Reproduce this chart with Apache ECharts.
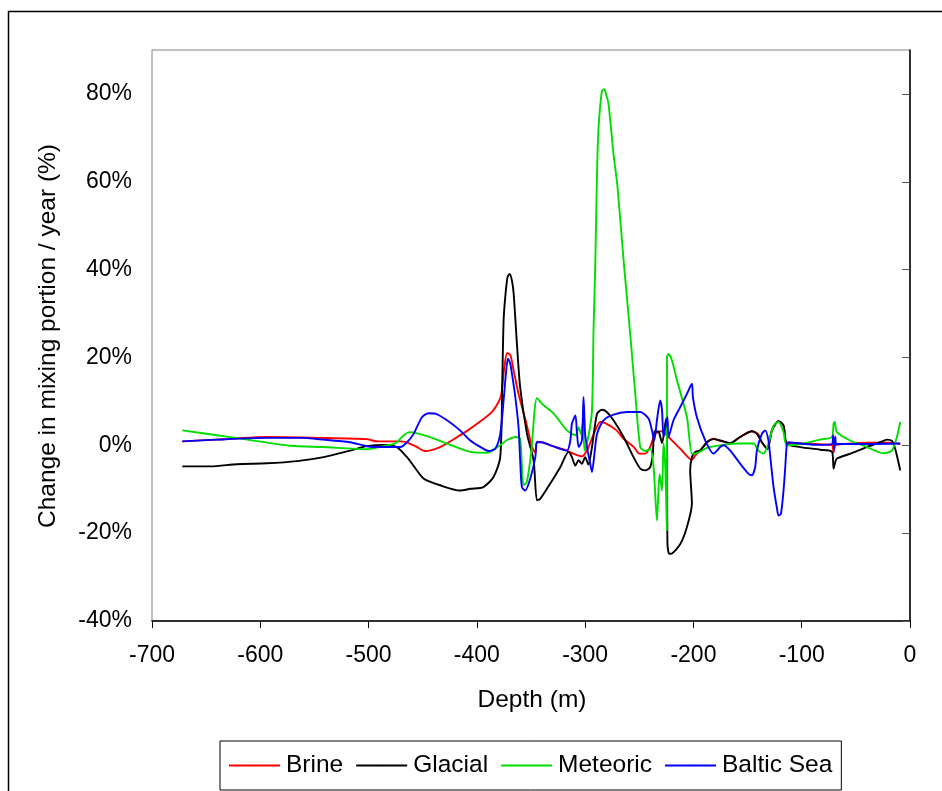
<!DOCTYPE html>
<html>
<head>
<meta charset="utf-8">
<script src="https://cdn.jsdelivr.net/npm/echarts@6/dist/echarts.min.js"></script>
<style>
  html, body { margin: 0; padding: 0; background: #fff; }
  #chart { width: 942px; height: 791px; }
</style>
</head>
<body>
<div id="chart"></div>
<script>
// Change in mixing portion per year (%) against depth (m), one [depth, change] pair per point.
const brine = [
  [-672, 0.9], [-640, 1.3], [-594, 1.9], [-545, 1.7], [-502, 1.4], [-492, 0.9], [-470, 0.9],
  [-466, 0.8], [-456, -0.3], [-448, -1.3], [-434, -0.4], [-420, 1.6], [-406, 3.8], [-386, 7.6],
  [-378, 11.0], [-375, 17.0], [-372, 21.0], [-369, 20.5], [-366, 17.0], [-361.5, 11.7],
  [-355, 5.7], [-349, -0.4], [-346, -1.7], [-344.5, 0.8], [-340, 0.7], [-332, 0], [-317, -1.2],
  [-310, -2.0], [-303, -2.5], [-298, -1.0], [-292, 2.6], [-286, 5.3], [-281, 5.0], [-271, 3.4],
  [-264.5, 1.5], [-255, -0.4], [-250, -1.9], [-244.5, -1.9], [-240, -0.4], [-235.3, 2.6],
  [-230, 3.2], [-227.6, 3.0], [-223, 1.9], [-212, -0.8], [-201.4, -3.3], [-198.3, -2.3],
  [-193.8, -1.2], [-187.5, 0.7], [-181.4, 1.5], [-175, 1.0], [-166, 0.5], [-156.8, 1.9],
  [-146, 3.2], [-140, 2.5], [-136.8, 0.7], [-131.6, -0.8], [-127.5, 3.4], [-121.4, 5.5],
  [-116.8, 4.5], [-113.7, 0.4], [-100, 0.4], [-80, 0.2], [-72, 0], [-70.6, -1.6], [-69, 0],
  [-60, 0.3], [-40, 0.6], [-20, 0.6], [-9, 0.3]
];

const glacial = [
  [-672, -4.8], [-646, -4.8], [-621.5, -4.3], [-594, -4.1], [-566, -3.6], [-541.5, -2.7],
  [-517, -1.2], [-501.5, -0.2], [-486, 0.1], [-474, -0.4], [-464.5, -2.7], [-456, -5.5],
  [-449, -7.6], [-434, -9.1], [-415.5, -10.3], [-406, -9.9], [-394, -9.5], [-384.6, -7.2],
  [-378.4, -2.7], [-376.5, 15], [-375.3, 28.4], [-373.8, 33.7], [-371.7, 38.3], [-369.8, 39.0],
  [-367.6, 37.5], [-366, 34.5], [-363, 23.1], [-360, 13.2], [-353.7, 2.6], [-347.6, -3.4],
  [-344.5, -12.5], [-341.5, -12.2], [-332.2, -8.7], [-323, -5.0], [-315.3, -1.5], [-312.2, -2.7],
  [-309, -4.6], [-306, -3.4], [-303, -4.2], [-300, -2.7], [-297, -4.4], [-293.7, -0.4],
  [-289, 7.2], [-284.5, 8.1], [-280, 7.6], [-273.8, 5.7], [-264.5, 1.9], [-255.3, -2.7],
  [-249.1, -5.3], [-244.5, -5.7], [-240, -5.0], [-237.5, -2.0], [-236, 3.2], [-232, 3.0],
  [-229, 0.5], [-226, 5.0], [-224.5, 6.4], [-224, -22.4], [-222.5, -24.7], [-221, -24.7],
  [-212, -22.4], [-206, -18.6], [-201.4, -13.3], [-203, -5.7], [-201.4, -2.7], [-198.3, -1.5],
  [-193.8, -1.2], [-187.5, 0.7], [-181.4, 1.4], [-175.3, 1.1], [-166, 0.5], [-156.8, 1.9],
  [-146, 3.2], [-141.4, 2.6], [-136.8, 0.7], [-131.6, -0.8], [-127.5, 3.4], [-121.4, 5.5],
  [-116.8, 4.5], [-113.7, 0.4], [-101.5, -0.4], [-83, -1.0], [-72, -1.5], [-70.6, -5.3],
  [-69, -3.8], [-67.5, -3.0], [-55, -1.9], [-40, -0.4], [-27.5, 0.7], [-21.3, 1.3],
  [-16.7, 1.0], [-13.7, -0.8], [-9, -5.7]
];

const meteoric = [
  [-672, 3.4], [-640, 2.3], [-612, 1.3], [-572, -0.1], [-542, -0.4], [-501.5, -0.9],
  [-486, -0.2], [-475, 0.5], [-468, 2.2], [-462, 3.0], [-455, 2.7], [-440, 1.6], [-427.6, 0.4],
  [-406, -1.5], [-391, -1.7], [-381, -0.4], [-372, 1.2], [-364, 1.9], [-360, 1.5], [-357, -9.0],
  [-354, -8.5], [-350, -2.0], [-344.5, 10.8], [-340, 9.5], [-329, 7.2], [-316.8, 3.4],
  [-309, 2.3], [-306, 4.1], [-304, 2.5], [-302, 5.3], [-300.5, -1.2], [-297, 2.0],
  [-293.7, 7.9], [-292.2, 26.9], [-290.7, 40.5], [-289, 62.5], [-287.6, 72.4], [-284.5, 80.7],
  [-282.4, 81.1], [-280.8, 80.0], [-278.4, 77.7], [-273.8, 66.3], [-270.1, 58.8],
  [-264.5, 42.1], [-258.4, 25.4], [-253.7, 11.7], [-249.1, -0.4], [-244.5, -1.3], [-240, -0.8],
  [-236.8, -5.0], [-233.7, -17.1], [-231.3, -6.5], [-229, -10.3], [-227.6, 0.4], [-226, -5.0],
  [-224.5, -19.4], [-224.4, 20.1], [-223, 20.8], [-219.8, 19.3], [-215.2, 14.8], [-206, 6.4],
  [-201.4, -1.9], [-198.3, -1.9], [-187.5, -0.6], [-172, 0.1], [-157, 0.4], [-144.5, 0.4],
  [-140, -1.2], [-135.3, -1.9], [-130.7, 0.4], [-126, 4.5], [-121.4, 5.3], [-116.8, 3.0],
  [-113.7, 0], [-98.3, 0.4], [-83, 1.3], [-72, 1.9], [-70.6, 4.9], [-69.5, 5.3], [-67.5, 3.0],
  [-55.2, 1.1], [-39.8, -0.4], [-24.5, -1.8], [-16.7, -1.2], [-12.1, 1.9], [-9, 5.3]
];

const balticSea = [
  [-672, 0.9], [-640, 1.3], [-594, 1.7], [-563, 1.7], [-541.5, 1.3], [-517, 0.7],
  [-501.5, -0.2], [-486, -0.4], [-470.7, -0.4], [-464.5, 0.7], [-458.4, 2.6], [-450.7, 6.4],
  [-444.6, 7.3], [-438.4, 7.2], [-427.6, 5.7], [-415.5, 3.4], [-406, 1.1], [-396.6, -0.4],
  [-389, -1.3], [-383, -0.8], [-378.4, 2.6], [-375.3, 10.2], [-372.9, 17.0], [-371.3, 19.7],
  [-369.2, 18.6], [-367.6, 16.3], [-364.5, 11.0], [-361.5, 4.1], [-360, -3.4], [-358.4, -9.5],
  [-355.3, -10.3], [-350.7, -7.6], [-346, -2.7], [-344.5, 0.7], [-340, 0.7], [-332, 0],
  [-316.8, -1.2], [-313.7, 1.1], [-312.2, 4.9], [-309, 6.8], [-307.6, 3.0], [-306, -0.4],
  [-303, 1.1], [-301.5, 11.0], [-300, 2.5], [-298.3, -0.4], [-295.3, -4.2], [-293.7, -6.1],
  [-291, -1.0], [-289, 2.6], [-283, 5.7], [-273.8, 7.0], [-261.4, 7.6], [-249.1, 7.6],
  [-241.5, 6.1], [-238.3, 3.4], [-236.2, 1.1], [-233.7, 5.7], [-230.7, 10.2], [-229, 8.0],
  [-227.6, 1.9], [-224, 6.4], [-223, 1.9], [-218.4, 5.7], [-212.2, 8.7], [-206, 11.7],
  [-201.4, 14.0], [-200.5, 11.0], [-196.8, 6.4], [-189.1, 1.1], [-181.4, -1.9], [-175.3, -0.4],
  [-172.2, 0], [-166, -1.2], [-156.8, -4.2], [-149.1, -6.5], [-146, -6.8], [-143, -5.0],
  [-141.4, -1.2], [-136.8, 2.6], [-133.7, 3.4], [-130.7, 1.1], [-129, -2.7], [-126, -9.5],
  [-123, -14.1], [-121.4, -16.0], [-119.2, -15.6], [-116.8, -10.3], [-115.2, -5.0],
  [-113.7, 0.4], [-112.2, 0.7], [-101.6, 0.4], [-83, 0.1], [-72, 0.3], [-71, 2.3], [-70, -1.0],
  [-69, 2.0], [-68, 0.3], [-40, 0.3], [-9, 0.4]
];

const seriesNames = ['Brine', 'Glacial', 'Meteoric', 'Baltic Sea'];
const seriesColors = ['#ff0000', '#000000', '#00dd00', '#0000ff'];
const yTicks = [-40, -20, 0, 20, 40, 60, 80];

const font = '"Liberation Sans", Arial, sans-serif';
const chart = echarts.init(document.getElementById('chart'), null, { renderer: 'canvas' });

const makeLine = (name, data, color) => ({
  name,
  type: 'line',
  data,
  symbol: 'none',
  smooth: 0.25,
  lineStyle: { color, width: 1.9 },
  itemStyle: { color },
  emphasis: { disabled: true },
  animation: false
});

chart.setOption({
  animation: false,
  backgroundColor: '#fff',
  textStyle: { fontFamily: font, color: '#000' },
  grid: {
    left: 152, top: 50, right: 32, bottom: 170,
    show: true, borderColor: '#808080', borderWidth: 1, backgroundColor: '#fff'
  },
  xAxis: {
    type: 'value',
    min: -700, max: 0, interval: 100,
    axisLine: { onZero: false, lineStyle: { color: '#000', width: 1.5 } },
    axisTick: { length: 7, lineStyle: { color: '#000', width: 1 } },
    axisLabel: { fontSize: 23, color: '#000', fontFamily: font, margin: 23 },
    splitLine: { show: false }
  },
  yAxis: {
    type: 'value',
    min: -40, max: 90, interval: 20,
    axisLine: { show: true, lineStyle: { color: '#000', width: 1.5 } },
    axisTick: { show: true, length: 8, customValues: yTicks, lineStyle: { color: '#555', width: 1 } },
    axisLabel: {
      fontSize: 23, color: '#000', fontFamily: font, margin: 20,
      customValues: yTicks,
      formatter: v => v + '%'
    },
    splitLine: { show: false }
  },
  legend: {
    data: seriesNames,
    left: 220, top: 741,
    orient: 'horizontal',
    itemWidth: 51, itemHeight: 2, itemGap: 12,
    padding: [12, 9, 12, 8],
    borderColor: '#000', borderWidth: 1,
    textStyle: { fontSize: 24.5, color: '#000', fontFamily: font, padding: [0, 0, 0, 1] },
    selectedMode: false
  },
  graphic: [
    {
      type: 'rect', silent: true, z: -1,
      shape: { x: 8.5, y: 11.5, width: 1000, height: 1000 },
      style: { fill: null, stroke: '#000', lineWidth: 1.5 }
    },
    {
      type: 'text', silent: true,
      x: 48, y: 336, rotation: Math.PI / 2,
      style: {
        text: 'Change in mixing portion / year (%)',
        font: '24.5px ' + font, fill: '#000',
        align: 'center', verticalAlign: 'middle'
      }
    },
    {
      type: 'text', silent: true,
      x: 532, y: 700,
      style: {
        text: 'Depth (m)',
        font: '24.5px ' + font, fill: '#000',
        align: 'center', verticalAlign: 'middle'
      }
    }
  ],
  series: [
    makeLine(seriesNames[0], brine, seriesColors[0]),
    makeLine(seriesNames[1], glacial, seriesColors[1]),
    makeLine(seriesNames[2], meteoric, seriesColors[2]),
    makeLine(seriesNames[3], balticSea, seriesColors[3])
  ]
});
</script>
</body>
</html>
